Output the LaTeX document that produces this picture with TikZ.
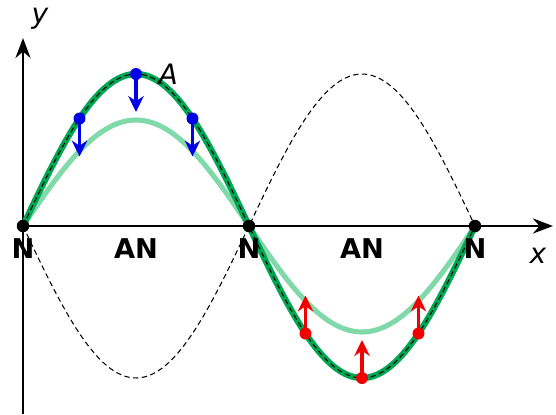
\documentclass[tikz,border=0pt]{standalone}
\usepackage{fontspec}
\setmainfont{DejaVu Sans}
\usetikzlibrary{positioning, arrows.meta}
\definecolor{wavedark}{HTML}{00A651}
\definecolor{wavelite}{HTML}{7FD9A8}
\definecolor{pushdown}{HTML}{0000E6}
\definecolor{pushup}{HTML}{F00000}

\begin{document}
\begin{tikzpicture}[x=0.02cm, y=0.02cm,
  axis/.style={line width=1.6pt, -{Stealth[length=4mm, width=3mm]}},
  knot/.style={circle, fill=black, inner sep=0pt, minimum size=0.25cm},
  dot/.style={circle, fill=#1, inner sep=0pt, minimum size=0.24cm},
  tag/.style={font=\fontsize{15.5}{18}\selectfont\bfseries},
  var/.style={font=\fontsize{16}{18}\selectfont\itshape},
  push/.style={draw=#1, line width=2pt, -{Stealth[length=3.2mm, width=3.1mm]}},
  wave/.style={domain=0:452, samples=120, smooth},
]
\useasboundingbox (-23,-188) rectangle (533,226);
% axes
\coordinate (o) at (0,0);
\coordinate (xend) at (530,0);
\coordinate (ybot) at (0,-188);
\coordinate (yend) at (0,188);
\draw[axis] (o) -- (xend);
\draw[axis] (ybot) -- (yend);
\node[var] (xlab) at (515,-30) {x};
\node[var] (ylab) at (17,207) {y};
% waves
\draw[black, line width=0.6pt, dash pattern=on 3pt off 2pt, wave]
  plot (\x, {-152*sin(\x/452*360)});
\draw[wavelite, line width=2.9pt, wave] plot (\x, {106*sin(\x/452*360)});
\draw[wavedark, line width=3.6pt, wave] plot (\x, {152*sin(\x/452*360)});
\draw[black, line width=0.6pt, dash pattern=on 3pt off 2pt, wave]
  plot (\x, {152*sin(\x/452*360)});
% nodes and antinodes
\node[knot] (n1) at (0,0) {};
\node[knot] (n2) at (226,0) {};
\node[knot] (n3) at (452,0) {};
\node[tag] (n1lab) at (0,-23) {N};
\node[tag] (n2lab) at (226,-23) {N};
\node[tag] (n3lab) at (452,-23) {N};
\node[tag] (an1lab) at (113,-23) {AN};
\node[tag] (an2lab) at (339,-23) {AN};
% blue particles moving down
\node[dot=pushdown] (b1) at (56.5,107.5) {};
\node[dot=pushdown] (b2) at (113,152) {};
\node[dot=pushdown] (b3) at (169.5,107.5) {};
\coordinate (b1e) at (56.5,69.5);
\coordinate (b2e) at (113,114);
\coordinate (b3e) at (169.5,69.5);
\draw[push=pushdown] (b1.center) -- (b1e);
\draw[push=pushdown] (b2.center) -- (b2e);
\draw[push=pushdown] (b3.center) -- (b3e);
\node[var, right=0.2cm of b2] (alab) {A};
% red particles moving up
\node[dot=pushup] (r1) at (282.5,-107.5) {};
\node[dot=pushup] (r2) at (339,-152) {};
\node[dot=pushup] (r3) at (395.5,-107.5) {};
\coordinate (r1e) at (282.5,-69.5);
\coordinate (r2e) at (339,-114);
\coordinate (r3e) at (395.5,-69.5);
\draw[push=pushup] (r1.center) -- (r1e);
\draw[push=pushup] (r2.center) -- (r2e);
\draw[push=pushup] (r3.center) -- (r3e);
\end{tikzpicture}
\end{document}
